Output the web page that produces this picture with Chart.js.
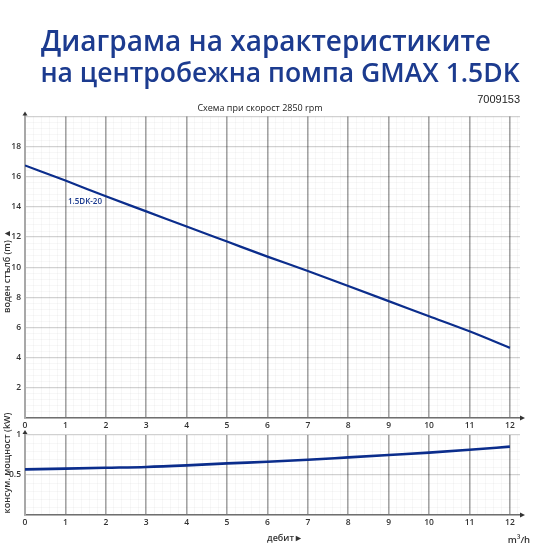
<!DOCTYPE html>
<html>
<head>
<meta charset="utf-8">
<script src="https://cdn.jsdelivr.net/npm/chart.js@4.4.0/dist/chart.umd.min.js"></script>
<style>
  html, body { margin: 0; padding: 0; background: #fff; }
  #wrap { position: relative; width: 550px; height: 550px; overflow: hidden; }
  #headChart { position: absolute; left: 0; top: 0; }
  #powerChart { position: absolute; left: 0; top: 395px; }
</style>
</head>
<body>
<div id="wrap">
  <canvas id="headChart" width="550" height="434" style="width:550px;height:434px"></canvas>
  <canvas id="powerChart" width="550" height="155" style="width:550px;height:155px"></canvas>
</div>
<script>
// flow in m3/h
const flowTicks = [0, 1, 2, 3, 4, 5, 6, 7, 8, 9, 10, 11, 12];
// head (m) of the 1.5DK-20 curve, read at each flow tick
const headValues = [16.75, 15.75, 14.7, 13.7, 12.7, 11.7, 10.7, 9.75, 8.75, 7.75, 6.75, 5.75, 4.65];
// power consumption (kW) at each flow tick
const powerValues = [0.57, 0.58, 0.59, 0.60, 0.62, 0.645, 0.665, 0.69, 0.72, 0.75, 0.78, 0.815, 0.855];
const headTickLabels = [2, 4, 6, 8, 10, 12, 14, 16, 18];
const powerTickLabels = [0.5, 1];
const seriesName = '1.5DK-20';
const titleLines = ['Диаграма на характеристиките', 'на центробежна помпа GMAX 1.5DK'];

const BLUE = '#0b2d8c';
const TITLE_BLUE = '#1c3b8f';
const TICK_FONT = {family: 'Open Sans', size: 8.5, weight: '600'};

function round2(v) { return Math.round(v * 100) / 100; }

function stepTicks(min, max, step) {
  const out = [];
  for (let i = 0; min + i * step <= max + 1e-9; i++) out.push({value: round2(min + i * step)});
  return out;
}

function isMajor(v, majorStep) {
  return Math.abs(v / majorStep - Math.round(v / majorStep)) < 1e-6;
}
// translucent so the horizontal lines don't break up the vertical ones
function gridColor(majorStep) {
  return (ctx) => {
    if (!ctx.tick || !isMajor(ctx.tick.value, majorStep)) return 'rgba(0,0,0,0.045)';
    return ctx.scale.axis === 'x' ? 'rgba(0,0,0,0.36)' : 'rgba(0,0,0,0.18)';
  };
}
function gridWidth(majorStep) {
  return (ctx) => {
    if (!ctx.tick || !isMajor(ctx.tick.value, majorStep)) return 0.8;
    return ctx.scale.axis === 'x' ? 1.6 : 1.2;
  };
}

// arrows at the axis ends and the loose texts round the plot
const extras = {
  id: 'extras',
  afterDraw(chart, args, opts) {
    const ctx = chart.ctx;
    const a = chart.chartArea;
    ctx.save();
    ctx.fillStyle = '#333';
    ctx.beginPath();
    ctx.moveTo(a.left - 2.5, a.top - 1);
    ctx.lineTo(a.left + 2.5, a.top - 1);
    ctx.lineTo(a.left, a.top - 5);
    ctx.closePath();
    ctx.fill();
    ctx.beginPath();
    ctx.moveTo(a.right, a.bottom - 2.5);
    ctx.lineTo(a.right, a.bottom + 2.5);
    ctx.lineTo(a.right + 5, a.bottom);
    ctx.closePath();
    ctx.fill();
    (opts.texts || []).forEach(t => {
      ctx.save();
      ctx.translate(t.x, t.y);
      if (t.rotate) ctx.rotate(t.rotate);
      ctx.font = t.font;
      ctx.fillStyle = t.color;
      ctx.textAlign = t.align || 'center';
      ctx.textBaseline = 'middle';
      ctx.fillText(t.text, 0, 0);
      ctx.restore();
    });
    ctx.restore();
  }
};

function xScale(height) {
  return {
    type: 'linear',
    min: 0,
    max: 12.25,
    afterBuildTicks: (axis) => { axis.ticks = stepTicks(0, 12.2, 0.2); },
    afterFit: (axis) => { axis.height = height; },
    ticks: {
      autoSkip: false,
      maxRotation: 0,
      padding: 2,
      color: '#333',
      font: TICK_FONT,
      callback: (v) => flowTicks.includes(round2(v)) ? String(round2(v)) : ''
    },
    grid: { color: gridColor(1), lineWidth: gridWidth(1), drawTicks: false },
    border: { color: '#6f6f6f', width: 1.6 }
  };
}

const headChart = new Chart(document.getElementById('headChart'), {
  type: 'line',
  data: {
    datasets: [{
      label: seriesName,
      data: flowTicks.map((q, i) => ({x: q, y: headValues[i]})),
      borderColor: BLUE,
      borderWidth: 2.2,
      pointRadius: 0,
      fill: false,
      cubicInterpolationMode: 'monotone'
    }]
  },
  options: {
    responsive: false,
    animation: false,
    layout: { padding: { left: 0, right: 30, top: 0, bottom: 0 } },
    plugins: {
      legend: { display: false },
      tooltip: { enabled: false },
      subtitle: {
        display: true,
        text: 'Схема при скорост 2850 rpm',
        color: '#222',
        font: { family: 'Open Sans', size: 9, weight: '500', lineHeight: 1.2 },
        padding: { top: 102.6, bottom: 3 }
      },
      extras: {
        texts: [
          { text: titleLines[0], x: 266, y: 43, font: '600 28px "Open Sans"', color: TITLE_BLUE },
          { text: titleLines[1], x: 280, y: 74, font: '600 26.5px "Open Sans"', color: TITLE_BLUE },
          { text: '7009153', x: 520, y: 100, align: 'right', font: '11px "Liberation Sans"', color: '#222' },
          { text: seriesName, x: 85, y: 202, font: '600 8px "Open Sans"', color: TITLE_BLUE },
          { text: 'воден стълб (m) ▲', x: 7, y: 271, rotate: -Math.PI / 2, font: '600 9px "Open Sans"', color: '#333' }
        ]
      }
    },
    scales: {
      x: xScale(16),
      y: {
        type: 'linear',
        min: 0,
        max: 20,
        afterBuildTicks: (axis) => { axis.ticks = stepTicks(0, 20, 0.4); },
        afterFit: (axis) => { axis.width = 25; },
        ticks: {
          autoSkip: false,
          padding: 4,
          color: '#333',
          font: TICK_FONT,
          callback: (v) => headTickLabels.includes(round2(v)) ? String(round2(v)) : ''
        },
        grid: { color: gridColor(2), lineWidth: gridWidth(2), drawTicks: false },
        border: { color: '#a8a8a8', width: 2 }
      }
    }
  },
  plugins: [extras]
});

const powerChart = new Chart(document.getElementById('powerChart'), {
  type: 'line',
  data: {
    datasets: [{
      label: seriesName,
      data: flowTicks.map((q, i) => ({x: q, y: powerValues[i]})),
      borderColor: BLUE,
      borderWidth: 2.6,
      pointRadius: 0,
      fill: false,
      cubicInterpolationMode: 'monotone'
    }]
  },
  options: {
    responsive: false,
    animation: false,
    layout: { padding: { left: 0, right: 30, top: 40, bottom: 0 } },
    plugins: {
      legend: { display: false },
      tooltip: { enabled: false },
      extras: {
        texts: [
          { text: 'дебит►', x: 285, y: 143, font: '600 9px "Open Sans"', color: '#333' },
          { text: 'm³/h', x: 519, y: 145, font: '600 9.5px "Open Sans"', color: '#333' },
          { text: 'консум. мощност (kW)', x: 7, y: 68, rotate: -Math.PI / 2, font: '600 9px "Open Sans"', color: '#333' }
        ]
      }
    },
    scales: {
      x: xScale(35),
      y: {
        type: 'linear',
        min: 0,
        max: 1,
        afterBuildTicks: (axis) => { axis.ticks = stepTicks(0, 1, 0.1); },
        afterFit: (axis) => { axis.width = 25; },
        ticks: {
          autoSkip: false,
          padding: 4,
          color: '#333',
          font: TICK_FONT,
          callback: (v) => powerTickLabels.includes(round2(v)) ? String(round2(v)) : ''
        },
        grid: { color: gridColor(0.5), lineWidth: gridWidth(0.5), drawTicks: false },
        border: { color: '#a8a8a8', width: 2 }
      }
    }
  },
  plugins: [extras]
});
</script>
</body>
</html>
